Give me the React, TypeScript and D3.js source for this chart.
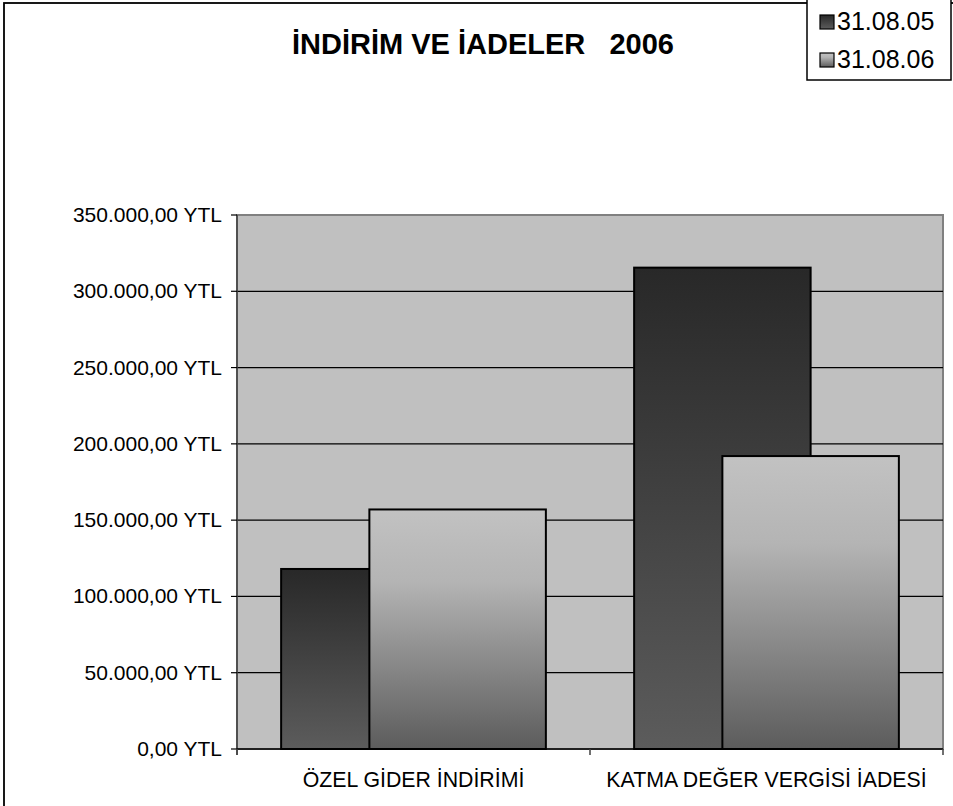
import React from "react";
import * as d3 from "d3";

// chart data
const categories = ["ÖZEL GİDER İNDİRİMİ", "KATMA DEĞER VERGİSİ İADESİ"];
const seriesNames = ["31.08.05", "31.08.06"];
const values2005 = [118000, 315500];
const values2006 = [157000, 192000];
const yTicks = [0, 50000, 100000, 150000, 200000, 250000, 300000, 350000];

const W = 953;
const H = 806;
const plot = { left: 237, right: 943, top: 215, bottom: 749 };

// "350.000,00 YTL"
const fmtYTL = (v: number) => {
  const s = d3.format(",.2f")(v);
  return s.replace(/,/g, "#").replace(".", ",").replace(/#/g, ".") + " YTL";
};

const App = () => {
  const x = d3
    .scaleBand<string>()
    .domain(categories)
    .range([plot.left, plot.right])
    .padding(0);
  const y = d3.scaleLinear().domain([0, 350000]).range([plot.bottom, plot.top]);

  const bw = x.bandwidth();
  const barW = bw * 0.5;
  const offsets = [bw * 0.125, bw * 0.375];
  const series = [values2005, values2006];
  const fills = ["url(#gDark)", "url(#gLight)"];

  return (
    <svg
      width={W}
      height={H}
      style={{ position: "absolute", left: 0, top: 0, fontFamily: "'Liberation Sans', Arial, sans-serif" }}
    >
      <defs>
        <linearGradient id="gDark" x1="0" y1="0" x2="0" y2="1">
          <stop offset="0" stopColor="#282828" />
          <stop offset="1" stopColor="#5c5c5c" />
        </linearGradient>
        <linearGradient id="gLight" x1="0" y1="0" x2="0" y2="1">
          <stop offset="0" stopColor="#c2c2c2" />
          <stop offset="0.3" stopColor="#b4b4b4" />
          <stop offset="1" stopColor="#5c5c5c" />
        </linearGradient>
      </defs>

      <rect x={0} y={0} width={W} height={H} fill="#fff" />
      {/* outer chart border, right/bottom run off the picture */}
      <rect x={4} y={3} width={W + 10} height={H + 10} fill="none" stroke="#000" strokeWidth={1.8} />

      <text
        x={483}
        y={54}
        textAnchor="middle"
        fontWeight="bold"
        fontSize={29}
        style={{ whiteSpace: "pre" }}
      >
        {"İNDİRİM VE İADELER   2006"}
      </text>

      {/* plot area */}
      <rect
        x={plot.left}
        y={plot.top}
        width={plot.right - plot.left}
        height={plot.bottom - plot.top}
        fill="#c0c0c0"
        stroke="#808080"
        strokeWidth={2}
      />

      {yTicks.slice(1, -1).map((t) => (
        <line key={t} x1={plot.left} x2={plot.right} y1={y(t)} y2={y(t)} stroke="#000" strokeWidth={1.2} />
      ))}

      {categories.map((c, i) =>
        series.map((vals, s) => (
          <rect
            key={c + s}
            x={(x(c) as number) + offsets[s]}
            y={y(vals[i])}
            width={barW}
            height={y(0) - y(vals[i])}
            fill={fills[s]}
            stroke="#000"
            strokeWidth={2}
          />
        ))
      )}

      {/* y axis */}
      <line x1={plot.left} x2={plot.left} y1={plot.top} y2={plot.bottom + 6} stroke="#404040" strokeWidth={1.5} />
      {yTicks.map((t) => (
        <g key={t}>
          <line x1={plot.left - 6} x2={plot.left} y1={y(t)} y2={y(t)} stroke="#000" strokeWidth={1.2} />
          <text x={plot.left - 15} y={y(t) + 7} textAnchor="end" fontSize={21} fill="#000">
            {fmtYTL(t)}
          </text>
        </g>
      ))}

      {/* x axis */}
      <line x1={plot.left} x2={plot.right} y1={plot.bottom} y2={plot.bottom} stroke="#000" strokeWidth={1.5} />
      {[...categories.map((c) => x(c) as number), plot.right].map((tx) => (
        <line key={tx} x1={tx} x2={tx} y1={plot.bottom} y2={plot.bottom + 6} stroke="#404040" strokeWidth={1.5} />
      ))}
      {categories.map((c) => (
        <text key={c} x={(x(c) as number) + bw / 2} y={787} textAnchor="middle" fontSize={21.3} fill="#000">
          {c}
        </text>
      ))}

      {/* legend */}
      <rect x={807} y={-2} width={144} height={82} fill="#fff" stroke="#000" strokeWidth={1.5} />
      {seriesNames.map((n, i) => (
        <g key={n} transform={`translate(820, ${15 + i * 38})`}>
          <rect x={0} y={0} width={14} height={14} fill={fills[i]} stroke="#000" strokeWidth={1.2} />
          <text x={17} y={15} fontSize={25} fill="#000">
            {n}
          </text>
        </g>
      ))}
    </svg>
  );
};

export default App;
